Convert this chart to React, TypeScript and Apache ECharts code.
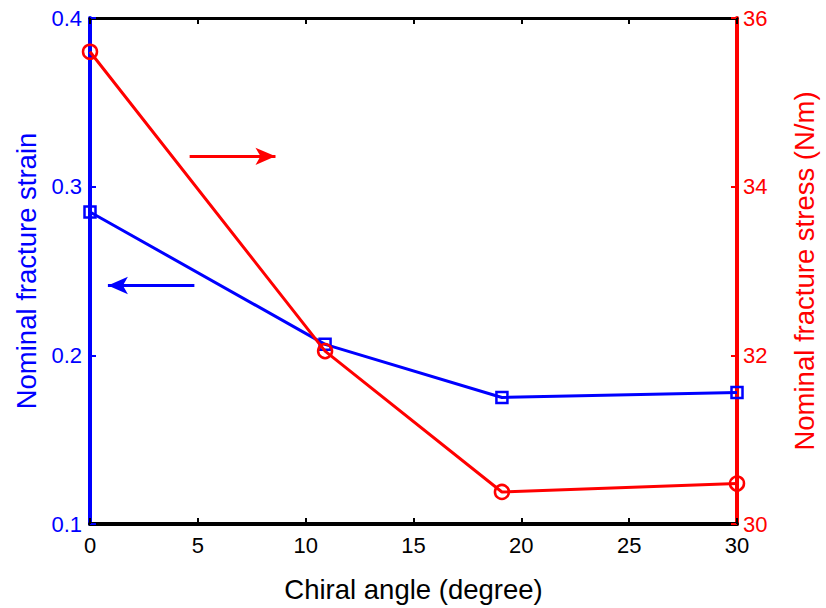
import React, { useEffect, useRef } from "react";
import * as echarts from "echarts";

const chiralAngle = [0, 10.9, 19.1, 30];
const fractureStrain = [0.285, 0.2065, 0.175, 0.178];
const fractureStress = [35.6, 32.05, 30.38, 30.48];
const xTicks = { min: 0, max: 30, interval: 5 };
const strainTicks = { min: 0.1, max: 0.4, interval: 0.1 };
const stressTicks = { min: 30, max: 36, interval: 2 };
const redArrow = [[4.62, 34.36], [8.6, 34.36]];
const blueArrow = [[4.84, 0.2414], [0.83, 0.2414]];

const FONT = "Liberation Sans, Arial, Helvetica, sans-serif";

export default function App() {
  const ref = useRef<HTMLDivElement>(null);
  useEffect(() => {
    if (!ref.current) return;
    document.body.style.margin = "0";
    document.body.style.overflow = "hidden";
    const chart = echarts.init(ref.current, null, { renderer: "svg" });
    chart.setOption({
      animation: false,
      backgroundColor: "#fff",
      grid: { left: 90, right: 86, top: 18, bottom: 81, containLabel: false },
      xAxis: [
        {
          type: "value",
          position: "bottom",
          min: xTicks.min,
          max: xTicks.max,
          interval: xTicks.interval,
          name: "Chiral angle (degree)",
          nameLocation: "middle",
          nameGap: 51,
          nameTextStyle: { color: "#000", fontSize: 27.5, fontFamily: FONT },
          axisLine: { show: true, onZero: false, lineStyle: { color: "#000", width: 4 } },
          axisTick: { show: true, inside: true, length: 6, lineStyle: { color: "#000", width: 2 } },
          axisLabel: { color: "#000", fontSize: 22, fontFamily: FONT, margin: 10 },
          splitLine: { show: false },
        },
        {
          type: "value",
          position: "top",
          min: xTicks.min,
          max: xTicks.max,
          interval: xTicks.interval,
          axisLine: { show: true, onZero: false, lineStyle: { color: "#000", width: 3 } },
          axisTick: { show: true, inside: true, length: 6, lineStyle: { color: "#000", width: 2 } },
          axisLabel: { show: false },
          splitLine: { show: false },
        },
      ],
      yAxis: [
        {
          type: "value",
          position: "left",
          min: strainTicks.min,
          max: strainTicks.max,
          interval: strainTicks.interval,
          name: "Nominal fracture strain",
          nameLocation: "middle",
          nameGap: 47,
          nameTextStyle: { color: "#0000ff", fontSize: 27.5, fontFamily: FONT },
          axisLine: { show: true, onZero: false, lineStyle: { color: "#0000ff", width: 4 } },
          axisTick: { show: true, inside: true, length: 6, lineStyle: { color: "#0000ff", width: 2 } },
          axisLabel: { color: "#0000ff", fontSize: 22, fontFamily: FONT, margin: 8, formatter: (v: number) => v.toFixed(1) },
          splitLine: { show: false },
        },
        {
          type: "value",
          position: "right",
          min: stressTicks.min,
          max: stressTicks.max,
          interval: stressTicks.interval,
          name: "Nominal fracture stress (N/m)",
          nameLocation: "middle",
          nameGap: 53,
          nameRotate: 90,
          nameTextStyle: { color: "#ff0000", fontSize: 27.5, fontFamily: FONT },
          axisLine: { show: true, onZero: false, lineStyle: { color: "#ff0000", width: 4 } },
          axisTick: { show: true, inside: true, length: 6, lineStyle: { color: "#ff0000", width: 2 } },
          axisLabel: { color: "#ff0000", fontSize: 22, fontFamily: FONT, margin: 6 },
          splitLine: { show: false },
        },
      ],
      series: [
        {
          type: "line",
          xAxisIndex: 0,
          yAxisIndex: 0,
          data: chiralAngle.map((x, i) => [x, fractureStrain[i]]),
          symbol: "rect",
          symbolSize: 11,
          showAllSymbol: true,
          lineStyle: { color: "#0000ff", width: 3 },
          itemStyle: { color: "rgba(0,0,0,0)", borderColor: "#0000ff", borderWidth: 2.5 },
          markLine: {
            silent: true,
            symbol: ["none", "arrow"],
            symbolSize: [13, 20],
            label: { show: false },
            lineStyle: { color: "#0000ff", width: 3, type: "solid" },
            data: [[{ coord: blueArrow[0] }, { coord: blueArrow[1] }]],
          },
          z: 3,
        },
        {
          type: "line",
          xAxisIndex: 0,
          yAxisIndex: 1,
          data: chiralAngle.map((x, i) => [x, fractureStress[i]]),
          symbol: "circle",
          symbolSize: 14,
          showAllSymbol: true,
          lineStyle: { color: "#ff0000", width: 3 },
          itemStyle: { color: "rgba(0,0,0,0)", borderColor: "#ff0000", borderWidth: 2.5 },
          markLine: {
            silent: true,
            symbol: ["none", "arrow"],
            symbolSize: [13, 20],
            label: { show: false },
            lineStyle: { color: "#ff0000", width: 3, type: "solid" },
            data: [[{ coord: redArrow[0] }, { coord: redArrow[1] }]],
          },
          z: 4,
        },
      ],
    });
    return () => chart.dispose();
  }, []);
  return (
    <div
      ref={ref}
      style={{ position: "fixed", left: 0, top: 0, width: 826, height: 608, overflow: "hidden" }}
    />
  );
}
